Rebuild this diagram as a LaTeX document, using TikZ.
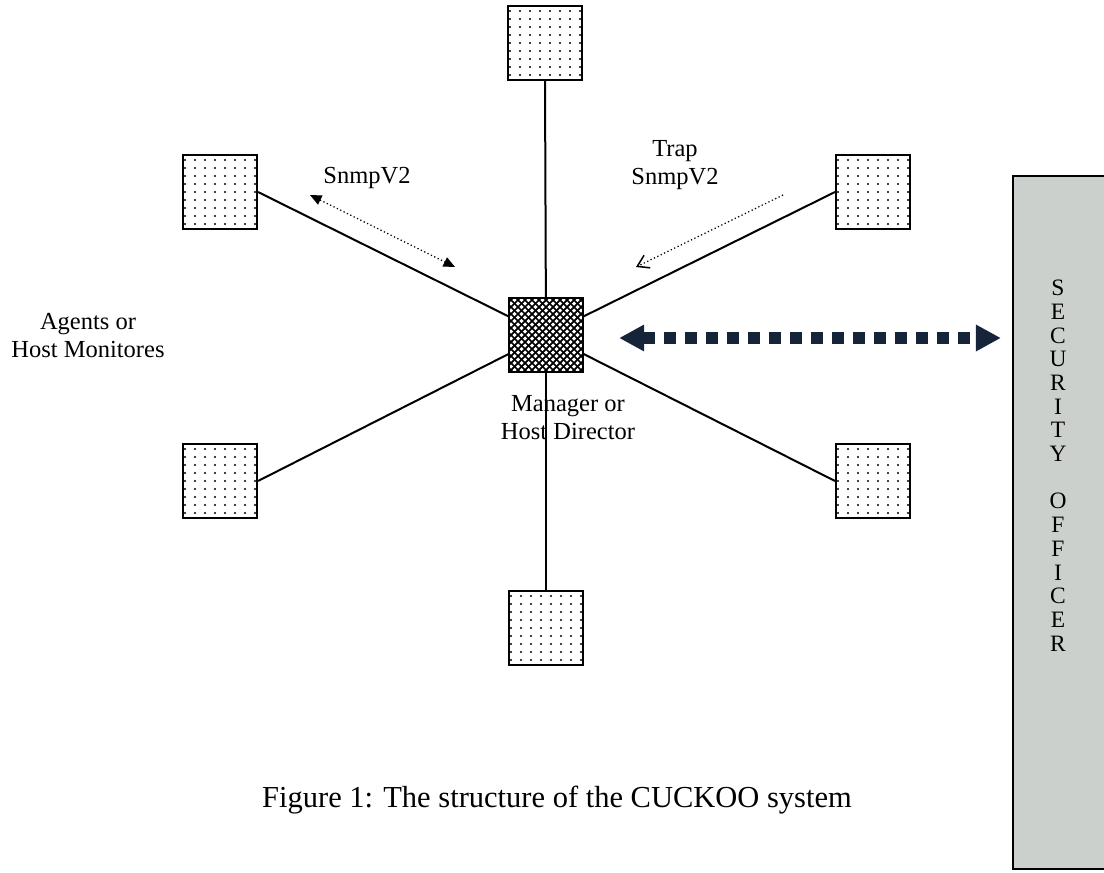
\documentclass[tikz,border=0pt]{standalone}
\usepackage{fontspec}
\setmainfont{Liberation Serif}
\usetikzlibrary{arrows.meta,backgrounds}
\definecolor{navy}{RGB}{22,36,58}
\definecolor{sogray}{RGB}{204,208,205}
\tikzset{
  agent/.style={draw=black, line width=0.8pt, fill=white, minimum size=29.6pt, inner sep=0pt,
    path picture={
      \foreach \i in {0,...,7} \foreach \j in {0,...,8}
        \fill[black] (\i*10-35,\j*8-32) circle (0.45pt);}},
  manager/.style={draw=black, line width=0.9pt, fill=white, minimum size=29.6pt, inner sep=0pt,
    path picture={
      \foreach \k in {-12,...,12} {
        \draw[black, line width=0.7pt] (\k*7-40,-40) -- ++(80,80);
        \draw[black, line width=0.7pt] (\k*7-40,40) -- ++(80,-80);}}},
  conn/.style={line width=0.8pt, black},
  lbl/.style={font=\fontsize{9.8pt}{11.2pt}\selectfont, align=center, inner sep=0pt},
  caption/.style={font=\fontsize{12.2pt}{15pt}\selectfont, inner sep=0pt},
  sobox/.style={draw=black, line width=0.9pt, fill=sogray, minimum width=38.8pt, minimum height=277.2pt, inner sep=0pt},
  soletter/.style={font=\fontsize{9.4pt}{10pt}\selectfont, inner sep=0pt},
  msgarrow/.style={densely dotted, line width=0.5pt, {Triangle[length=4.6pt,width=4pt]}-{Triangle[length=4.6pt,width=4pt]}},
  traparrow/.style={densely dotted, line width=0.5pt, -{Straight Barb[length=4.4pt,width=5.6pt, line width=0.6pt]}},
  bigarrow/.style={navy, line width=4.8pt, dash pattern=on 4.8pt off 3.6pt,
    {Triangle[length=10pt,width=10pt]}-{Triangle[length=10pt,width=10pt]}}
}
\begin{document}
\begin{tikzpicture}[x=0.4pt,y=-0.4pt]
\useasboundingbox (0,0) rectangle (1104,872);

% nodes
\node[agent] (top) at (545,43) {};
\node[agent] (tl) at (220,192) {};
\node[agent] (tr) at (873,192) {};
\node[manager] (mgr) at (546,335) {};
\node[agent] (bl) at (220,481) {};
\node[agent] (br) at (873,481) {};
\node[agent] (bot) at (546,628) {};

% connections behind the boxes
\begin{scope}[on background layer]
\draw[conn] (top.south) -- (mgr.center);
\draw[conn] (tl.east) -- (mgr.center);
\draw[conn] (tr.west) -- (mgr.center);
\draw[conn] (bl.east) -- (mgr.center);
\draw[conn] (br.west) -- (mgr.center);
\draw[conn] (mgr.center) -- (bot.north);
\end{scope}

% security officer
\node[sobox] (so) at (1061.5,522.5) {};
\foreach \l [count=\n from 0] in {S,E,C,U,R,I,T,Y}
  \node[soletter] (sa\n) at (1058,288+\n*23.7) {\l};
\foreach \l [count=\n from 9] in {O,F,F,I,C,E,R}
  \node[soletter] (sb\n) at (1058,288+\n*23.7) {\l};

% message arrows
\coordinate (s1) at (310,195);
\coordinate (s2) at (455,267);
\draw[msgarrow] (s1) -- (s2);
\coordinate (t1) at (783,195);
\coordinate (t2) at (636,267);
\draw[traparrow] (t1) -- (t2);

% big arrow
\coordinate (oa) at ([xshift=14pt,yshift=-1.2pt]mgr.east);
\coordinate (ob) at (so.west |- oa);
\draw[bigarrow] (oa) -- ([xshift=-4.4pt]ob);

% labels
\node[lbl] (lsnmp) at (367,178) {SnmpV2};
\node[lbl] (ltrap) at (675,165) {Trap\\SnmpV2};
\node[lbl] (lagents) at (88,336) {Agents or\\Host Monitores};
\node[lbl] (lmgr) at (568,418) {Manager or\\Host Director};
\node[caption] (cap) at (557,800) {Figure 1: The structure of the CUCKOO system};
\end{tikzpicture}
\end{document}
